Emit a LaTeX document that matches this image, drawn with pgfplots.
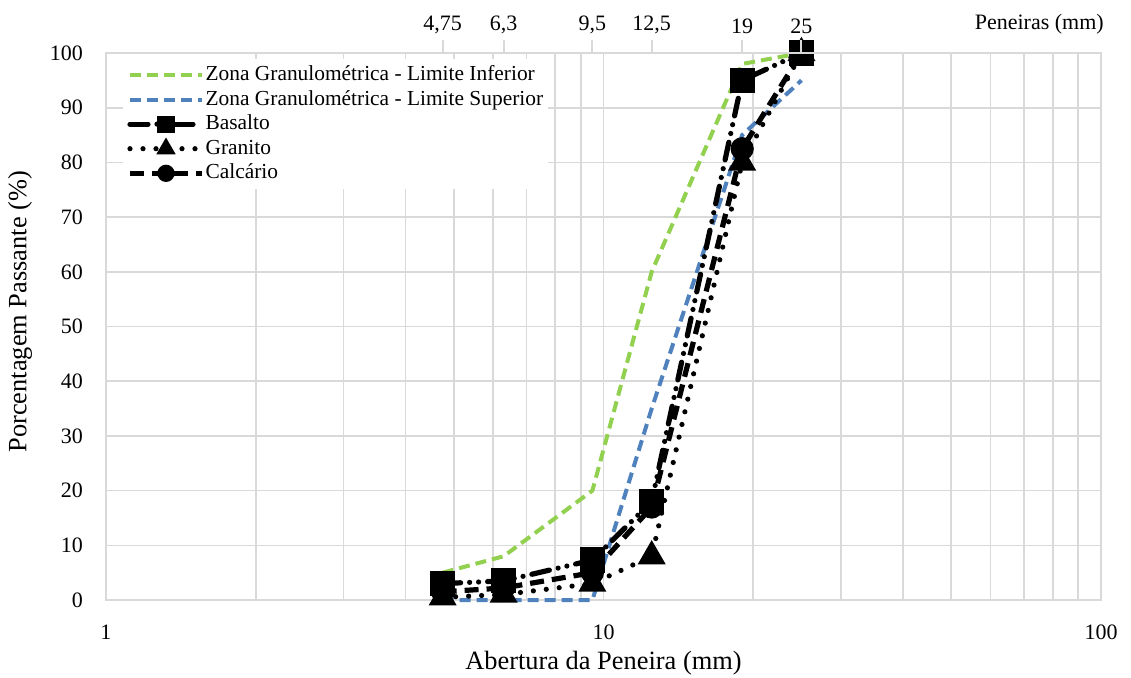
\documentclass[border=0pt]{standalone}
\usepackage{fontspec}
\setmainfont{Liberation Serif}
\usepackage{pgfplots}
\pgfplotsset{compat=1.18}
\definecolor{gridc}{HTML}{D9D9D9}
\definecolor{limgreen}{HTML}{92D050}
\definecolor{limblue}{HTML}{4F81BD}
\begin{document}
\begin{tikzpicture}
\begin{axis}[
  scale only axis, width=497.5pt, height=273.5pt,
  xmode=log, log basis x=10,
  xmin=1, xmax=100, ymin=0, ymax=100,
  xtick={1,10,100}, xticklabels={1,10,100},
  minor xtick={2,3,4,5,6,7,8,9,20,30,40,50,60,70,80,90},
  ytick={0,10,...,100},
  grid=both,
  major grid style={gridc, line width=0.8pt},
  minor grid style={gridc, line width=0.8pt},
  axis line style={gridc, line width=0.8pt},
  major tick length=0pt, minor tick length=0pt,
  tick label style={font=\fontsize{11}{13}\selectfont},
  /pgf/number format/assume math mode=true,
  yticklabel style={xshift=-8pt},
  xticklabel style={yshift=-9pt},
  xlabel={Abertura da Peneira (mm)},
  ylabel={Porcentagem Passante (\%)},
  label style={font=\fontsize{13.2}{15}\selectfont},
  xlabel style={at={(axis description cs:0.5,-0.1152)}, anchor=center},
  ylabel style={at={(axis description cs:-0.0864,0.527)}, anchor=center},
  clip=false,
  legend cell align=left,
  legend style={at={(rel axis cs:0,1)}, anchor=north west, xshift=8.5pt, yshift=-3pt,
    draw=none, fill=white, inner xsep=2pt, inner ysep=2pt,
    font=\fontsize{10.7}{12}\selectfont, row sep=0.8pt,
    nodes={inner sep=0.5pt, text height=8pt, text depth=2.5pt}},
  legend image code/.code={\draw[mark repeat=2,mark phase=2] plot coordinates {(0pt,0pt)(18pt,0pt)(36pt,0pt)};},
  legend image post style={mark size=3pt},
]
\addplot[limgreen, line width=2pt, dash pattern=on 5.5pt off 3pt] coordinates {
  (4.75,5) (6.3,8) (9.5,20) (12.5,60) (19,98) (25,100)};
\addlegendentry{Zona Granulométrica - Limite Inferior}
\addplot[limblue, line width=2pt, dash pattern=on 5.5pt off 3pt] coordinates {
  (4.75,0) (6.3,0) (9.5,0) (12.5,35) (19,85) (25,95)};
\addlegendentry{Zona Granulométrica - Limite Superior}
\addplot[black, line width=2.6pt, line cap=round, dash pattern=on 9pt off 4.5pt on 0pt off 4.5pt on 0pt off 4.5pt,
  mark=square*, mark size=5pt, mark options={solid}] coordinates {
  (4.75,3) (6.3,3.5) (9.5,7.3) (12.5,18) (19,95) (25,100)};
\addlegendentry{Basalto}
\addplot[black, line width=2.6pt, line cap=round, dash pattern=on 0pt off 6.5pt,
  mark=triangle*, mark size=5.5pt, mark options={solid}] coordinates {
  (4.75,0.5) (6.3,1) (9.5,3) (12.5,8) (19,80) (25,100)};
\addlegendentry{Granito}
\addplot[black, line width=2.6pt, dash pattern=on 7pt off 4pt,
  mark=*, mark size=4.5pt, mark options={solid}] coordinates {
  (4.75,1.5) (6.3,2.2) (9.5,5) (12.5,17) (19,82.5) (25,100)};
\addlegendentry{Calcário}
\end{axis}
\begin{axis}[
  scale only axis, width=497.5pt, height=273.5pt,
  xmode=log, log basis x=10,
  xmin=1, xmax=100, ymin=0, ymax=100,
  axis x line*=top, hide y axis,
  xtick={4.75,6.3,9.5,12.5,19,25},
  xticklabels={{4,75},{6,3},{9,5},{12,5},19,25},
  minor xtick={},
  major tick length=6.5pt, minor tick length=0pt, tick align=outside,
  tick style={gridc, line width=1pt},
  axis line style={gridc, line width=0.8pt},
  xticklabel style={font=\fontsize{11}{13}\selectfont, yshift=-0.5pt},
  clip=false,
]
\node[font=\fontsize{11}{13}\selectfont, anchor=center] at (rel axis cs:0.938,1) [yshift=14.5pt] {Peneiras (mm)};
\end{axis}
\pgfresetboundingbox
\path (-53pt,-38.5pt) rectangle (512.5pt,300pt);
\end{tikzpicture}
\end{document}
